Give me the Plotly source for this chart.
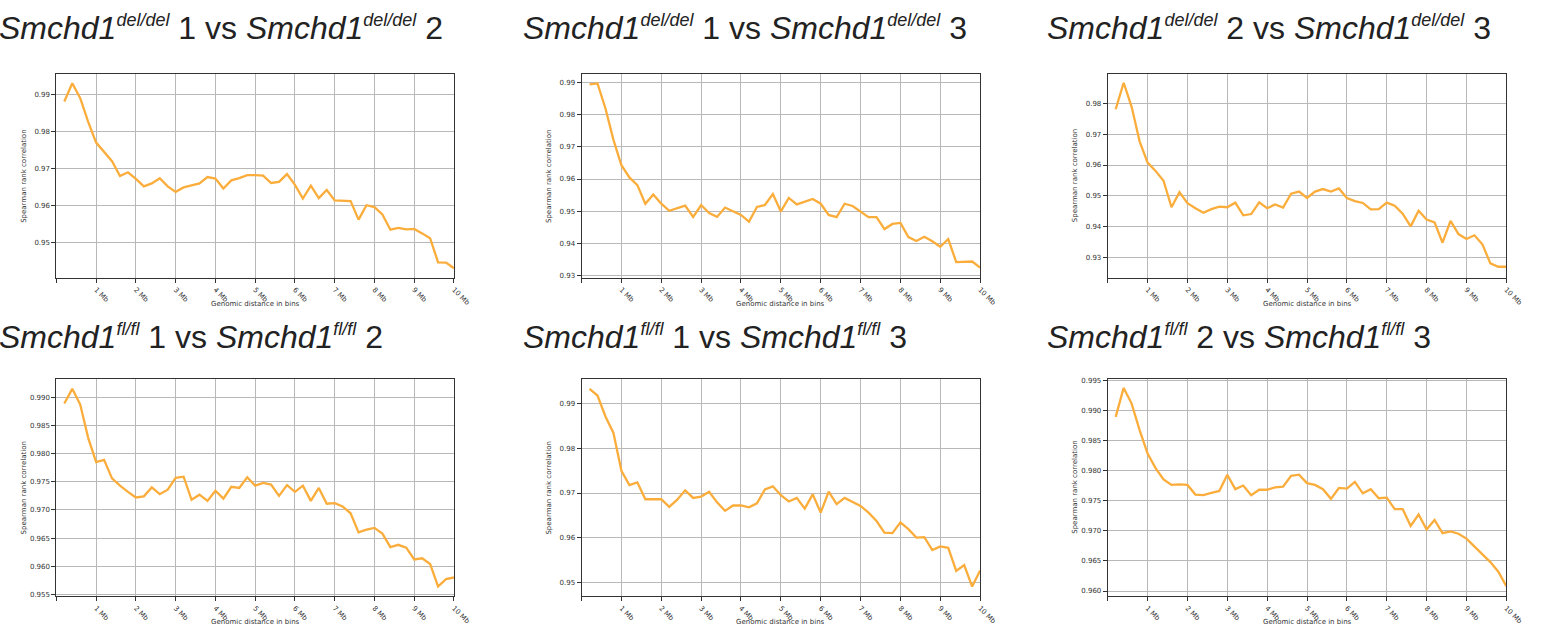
import plotly.graph_objects as go

W, H = 1551, 640

distance_mb = [0.2, 0.4, 0.6, 0.8, 1.0, 1.2, 1.4, 1.6, 1.8, 2.0,
               2.2, 2.4, 2.6, 2.8, 3.0, 3.2, 3.4, 3.6, 3.8, 4.0,
               4.2, 4.4, 4.6, 4.8, 5.0, 5.2, 5.4, 5.6, 5.8, 6.0,
               6.2, 6.4, 6.6, 6.8, 7.0, 7.2, 7.4, 7.6, 7.8, 8.0,
               8.2, 8.4, 8.6, 8.8, 9.0, 9.2, 9.4, 9.6, 9.8, 10.0]

x_tick_vals = [1, 2, 3, 4, 5, 6, 7, 8, 9, 10]
x_tick_text = ["1 Mb", "2 Mb", "3 Mb", "4 Mb", "5 Mb", "6 Mb", "7 Mb", "8 Mb", "9 Mb", "10 Mb"]

del_1_vs_2 = [0.9881, 0.9930, 0.9890, 0.9826, 0.9770, 0.9744, 0.9720, 0.9680, 0.9690, 0.9672,
              0.9652, 0.9660, 0.9674, 0.9652, 0.9637, 0.9649, 0.9654, 0.9660, 0.9677, 0.9673,
              0.9646, 0.9668, 0.9674, 0.9682, 0.9682, 0.9681, 0.9661, 0.9664, 0.9685, 0.9656,
              0.9619, 0.9654, 0.9620, 0.9642, 0.9614, 0.9614, 0.9612, 0.9562, 0.9601, 0.9596,
              0.9576, 0.9535, 0.9540, 0.9536, 0.9537, 0.9525, 0.9512, 0.9447, 0.9446, 0.9431]

del_1_vs_3 = [0.9895, 0.9898, 0.9820, 0.9722, 0.9643, 0.9605, 0.9581, 0.9523, 0.9552, 0.9523,
              0.9501, 0.9509, 0.9517, 0.9482, 0.9519, 0.9494, 0.9482, 0.9511, 0.9500, 0.9488,
              0.9467, 0.9513, 0.9519, 0.9553, 0.9499, 0.9541, 0.9521, 0.9529, 0.9538, 0.9523,
              0.9488, 0.9481, 0.9523, 0.9516, 0.9499, 0.9481, 0.9481, 0.9444, 0.9460, 0.9463,
              0.9419, 0.9407, 0.9420, 0.9406, 0.9389, 0.9413, 0.9341, 0.9343, 0.9343, 0.9324]

del_2_vs_3 = [0.9781, 0.9867, 0.9789, 0.9677, 0.9608, 0.9581, 0.9549, 0.9463, 0.9512, 0.9476,
              0.9460, 0.9445, 0.9457, 0.9465, 0.9463, 0.9478, 0.9437, 0.9441, 0.9479, 0.9460,
              0.9472, 0.9462, 0.9507, 0.9514, 0.9493, 0.9514, 0.9522, 0.9514, 0.9524, 0.9493,
              0.9483, 0.9477, 0.9456, 0.9457, 0.9478, 0.9468, 0.9442, 0.9401, 0.9452, 0.9423,
              0.9414, 0.9348, 0.9419, 0.9376, 0.9360, 0.9372, 0.9343, 0.9281, 0.9270, 0.9270]

fl_1_vs_2 = [0.9889, 0.9915, 0.9887, 0.9828, 0.9785, 0.9789, 0.9756, 0.9743, 0.9732, 0.9722,
             0.9724, 0.9740, 0.9728, 0.9736, 0.9757, 0.9759, 0.9718, 0.9727, 0.9716, 0.9734,
             0.9720, 0.9741, 0.9739, 0.9758, 0.9743, 0.9748, 0.9745, 0.9725, 0.9744, 0.9732,
             0.9743, 0.9716, 0.9739, 0.9711, 0.9712, 0.9706, 0.9694, 0.9660, 0.9665, 0.9668,
             0.9658, 0.9634, 0.9638, 0.9633, 0.9612, 0.9614, 0.9604, 0.9564, 0.9577, 0.9580]

fl_1_vs_3 = [0.9934, 0.9919, 0.9872, 0.9835, 0.9750, 0.9718, 0.9724, 0.9686, 0.9686, 0.9686,
             0.9669, 0.9685, 0.9706, 0.9689, 0.9692, 0.9703, 0.9679, 0.9660, 0.9672, 0.9672,
             0.9668, 0.9677, 0.9708, 0.9715, 0.9695, 0.9681, 0.9689, 0.9665, 0.9697, 0.9656,
             0.9703, 0.9675, 0.9689, 0.9680, 0.9671, 0.9656, 0.9637, 0.9611, 0.9610, 0.9634,
             0.9619, 0.9600, 0.9601, 0.9572, 0.9580, 0.9577, 0.9525, 0.9538, 0.9490, 0.9526]

fl_2_vs_3 = [0.9889, 0.9937, 0.9911, 0.9867, 0.9828, 0.9804, 0.9785, 0.9776, 0.9777, 0.9776,
             0.9760, 0.9759, 0.9763, 0.9766, 0.9793, 0.9769, 0.9775, 0.9759, 0.9768, 0.9768,
             0.9772, 0.9773, 0.9791, 0.9793, 0.9779, 0.9776, 0.9769, 0.9753, 0.9771, 0.9770,
             0.9781, 0.9762, 0.9769, 0.9754, 0.9755, 0.9736, 0.9736, 0.9708, 0.9727, 0.9702,
             0.9718, 0.9696, 0.9699, 0.9695, 0.9687, 0.9674, 0.9661, 0.9648, 0.9632, 0.9608]

series = [del_1_vs_2, del_1_vs_3, del_2_vs_3, fl_1_vs_2, fl_1_vs_3, fl_2_vs_3]

gene = "Smchd1"
genotypes = ["del/del", "del/del", "del/del", "fl/fl", "fl/fl", "fl/fl"]
pairs = [("1", "2"), ("1", "3"), ("2", "3"), ("1", "2"), ("1", "3"), ("2", "3")]


def make_title(gt, a, b):
    sup = f'<sup><span style="font-size:18px">{gt}</span></sup>'
    return f"<i>{gene}{sup}</i> {a} vs <i>{gene}{sup}</i> {b}"


titles = [make_title(g, a, b) for g, (a, b) in zip(genotypes, pairs)]

y_ranges = [[0.9405, 0.9954], [0.9292, 0.9926], [0.9234, 0.9894],
            [0.95465, 0.99324], [0.9468, 0.9956], [0.95912, 0.99517]]
y_ticks = [[0.95, 0.96, 0.97, 0.98, 0.99],
           [0.93, 0.94, 0.95, 0.96, 0.97, 0.98, 0.99],
           [0.93, 0.94, 0.95, 0.96, 0.97, 0.98],
           [0.955, 0.960, 0.965, 0.970, 0.975, 0.980, 0.985, 0.990],
           [0.95, 0.96, 0.97, 0.98, 0.99],
           [0.960, 0.965, 0.970, 0.975, 0.980, 0.985, 0.990, 0.995]]
y_formats = [".2f", ".2f", ".2f", ".3f", ".2f", ".3f"]

# pixel layout of panels (left, right, top, bottom)
col_px = [(57, 459), (588, 991), (1120, 1523)]
row_px = [(72, 277), (379, 598)]
title_left_px = [-3, 527, 1057]
title_y_px = [25, 337]

LINE_COLOR = "#fbad3c"
TICK_FONT = dict(family="DejaVu Sans", size=7, color="#333333")

fig = go.Figure()
annotations = []
layout_axes = {}

for i, ys in enumerate(series):
    r, c = divmod(i, 3)
    l, rr = col_px[c]
    t, b = row_px[r]
    xd = [l / W, rr / W]
    yd = [1 - b / H, 1 - t / H]
    n = i + 1
    xa = "x" if n == 1 else f"x{n}"
    ya = "y" if n == 1 else f"y{n}"
    fig.add_trace(go.Scatter(x=distance_mb, y=ys, mode="lines",
                             line=dict(color=LINE_COLOR, width=2.3),
                             xaxis=xa, yaxis=ya, showlegend=False))
    xkey = "xaxis" if n == 1 else f"xaxis{n}"
    ykey = "yaxis" if n == 1 else f"yaxis{n}"
    layout_axes[xkey] = dict(
        domain=xd, anchor=ya, range=[0, 10],
        tickmode="array", tickvals=x_tick_vals, ticktext=x_tick_text,
        tickangle=45, tickfont=TICK_FONT, ticks="outside", ticklen=4,
        tickcolor="#333333", showgrid=True, gridcolor="#b8b8b8", gridwidth=0.8,
        minor=dict(tickmode="array", tickvals=[0], ticks="outside", ticklen=4,
                   tickcolor="#333333", showgrid=False),
        showline=True, linecolor="#333333", linewidth=1, mirror=True,
        zeroline=False, fixedrange=True,
    )
    layout_axes[ykey] = dict(
        domain=yd, anchor=xa, range=y_ranges[i],
        tickmode="array", tickvals=y_ticks[i], tickformat=y_formats[i],
        tickfont=TICK_FONT, ticks="outside", ticklen=4, tickcolor="#333333",
        showgrid=True, gridcolor="#b8b8b8", gridwidth=0.8,
        showline=True, linecolor="#333333", linewidth=1, mirror=True,
        zeroline=False, fixedrange=True,
    )
    # panel title
    annotations.append(dict(
        text=titles[i], xref="paper", yref="paper",
        x=title_left_px[c] / W, y=1 - title_y_px[r] / H,
        xanchor="left", yanchor="middle", showarrow=False,
        font=dict(family="Liberation Sans", size=32, color="#222222"),
    ))
    # x axis title
    annotations.append(dict(
        text="Genomic distance in bins", xref="paper", yref="paper",
        x=(l + rr) / 2 / W, y=1 - (b + 26) / H,
        xanchor="center", yanchor="middle", showarrow=False,
        font=dict(family="DejaVu Sans", size=7, color="#333333"),
    ))
    # y axis title
    annotations.append(dict(
        text="Spearman rank correlation", xref="paper", yref="paper",
        x=(l - 33) / W, y=1 - (t + b) / 2 / H, textangle=-90,
        xanchor="center", yanchor="middle", showarrow=False,
        font=dict(family="DejaVu Sans", size=7, color="#333333"),
    ))

fig.update_layout(
    width=W, height=H,
    margin=dict(l=0, r=0, t=0, b=0),
    paper_bgcolor="white", plot_bgcolor="white",
    annotations=annotations,
    **layout_axes,
)

fig.write_html("out.html")
